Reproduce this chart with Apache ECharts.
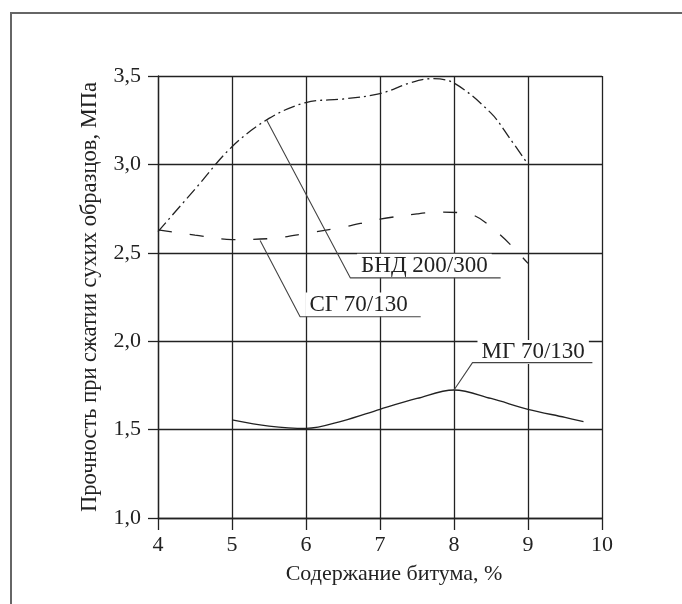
<!DOCTYPE html>
<html>
<head>
<meta charset="utf-8">
<script src="https://cdn.jsdelivr.net/npm/echarts@6/dist/echarts.min.js"></script>
<style>
html,body{margin:0;padding:0;background:#fff;}
#c{width:682px;height:604px;}
</style>
</head>
<body>
<div id="c"></div>
<script>
// ---- data ----
var xTicks = [4, 5, 6, 7, 8, 9, 10];
var yTicks = [1.0, 1.5, 2.0, 2.5, 3.0, 3.5];

var bndX = [4, 4.5, 5, 5.5, 6, 6.5, 7, 7.4, 7.7, 8, 8.5, 8.75, 9];
var bndY = [2.62, 2.86, 3.10, 3.26, 3.35, 3.37, 3.40, 3.46, 3.485, 3.46, 3.29, 3.15, 3.0];

var sgX = [4, 4.5, 5, 5.5, 6, 6.5, 7, 7.5, 7.8, 8.2, 8.6, 9];
var sgY = [2.63, 2.60, 2.575, 2.58, 2.61, 2.645, 2.69, 2.72, 2.73, 2.72, 2.61, 2.44];

var mgX = [5, 5.5, 6, 6.5, 7, 7.5, 8, 8.5, 9, 9.5, 9.75];
var mgY = [1.555, 1.52, 1.507, 1.55, 1.615, 1.676, 1.724, 1.676, 1.615, 1.569, 1.545];

var labelNames = ['БНД 200/300', 'СГ 70/130', 'МГ 70/130'];
var labelX = [7.60, 6.71, 9.07];
var labelY = [2.427, 2.207, 1.939];
var leaderBnd = [[5.47, 3.25], [6.60, 2.358], [8.63, 2.358]];
var leaderSg = [[5.38, 2.57], [5.92, 2.138], [7.55, 2.138]];
var leaderMg = [[8.0, 1.724], [8.25, 1.879], [9.87, 1.879]];

var xName = 'Содержание битума, %';
var yName = 'Прочность при сжатии сухих образцов, МПа';

function zip(xs, ys) { return xs.map(function (x, i) { return [x, ys[i]]; }); }

var FONT = 'Liberation Serif';
var INK = '#222222';

var chart = echarts.init(document.getElementById('c'), null, {renderer: 'canvas'});

function curve(data, dash) {
  return {
    type: 'line', data: data, smooth: 0.35, showSymbol: false, symbol: 'none', silent: true, z: 2,
    lineStyle: {color: INK, width: 1.3, type: dash}
  };
}
function leader(data) {
  return {
    type: 'line', data: data, smooth: false, showSymbol: false, symbol: 'none', silent: true, z: 5,
    lineStyle: {color: '#444', width: 1.1}
  };
}

chart.setOption({
  animation: false,
  backgroundColor: '#fff',
  graphic: [{
    type: 'rect', shape: {x: 11, y: 13, width: 700, height: 640},
    style: {fill: 'none', stroke: '#666', lineWidth: 2}, silent: true
  }],
  grid: {left: 158, right: 80, top: 76, bottom: 86},
  xAxis: {
    type: 'value', min: 4, max: 10, interval: 1,
    name: xName, nameLocation: 'middle', nameGap: 45,
    nameTextStyle: {fontFamily: FONT, fontSize: 22, color: INK, padding: [0, 0, 0, 28]},
    axisLine: {show: true, onZero: false, lineStyle: {color: INK, width: 1.3}},
    axisTick: {show: true, length: 12, lineStyle: {color: INK, width: 1.3}},
    axisLabel: {fontFamily: FONT, fontSize: 22, color: INK, margin: 16,
      formatter: function (v) { return xTicks.indexOf(v) >= 0 ? String(v) : ''; }},
    splitLine: {show: true, lineStyle: {color: INK, width: 1.3}}
  },
  yAxis: {
    type: 'value', min: 1.0, max: 3.5, interval: 0.5,
    name: yName, nameLocation: 'middle', nameGap: 56, nameRotate: 90,
    nameTextStyle: {fontFamily: FONT, fontSize: 22.5, color: INK},
    axisLine: {show: true, onZero: false, lineStyle: {color: INK, width: 1.3}},
    axisTick: {show: true, length: 10, lineStyle: {color: INK, width: 1.3}},
    axisLabel: {fontFamily: FONT, fontSize: 22, color: INK, margin: 17,
      formatter: function (v) { return v.toFixed(1).replace('.', ','); }},
    splitLine: {show: true, lineStyle: {color: INK, width: 1.3}}
  },
  series: [
    curve(zip(bndX, bndY), [12, 4, 2, 4]),
    curve(zip(sgX, sgY), [14, 18]),
    curve(zip(mgX, mgY), 'solid'),
    {
      type: 'scatter', z: 4, silent: true, symbolSize: 1,
      itemStyle: {color: 'rgba(0,0,0,0)'},
      data: labelNames.map(function (n, i) { return {name: n, value: [labelX[i], labelY[i]]}; }),
      label: {
        show: true, position: 'inside', formatter: function (p) { return p.name; },
        fontFamily: FONT, fontSize: 23, color: INK, opacity: 1,
        textBorderWidth: 0, textBorderColor: 'transparent',
        backgroundColor: '#fff', padding: [1, 4, 0, 4]
      },
      labelLayout: {hideOverlap: false}
    },
    leader(leaderBnd),
    leader(leaderSg),
    leader(leaderMg)
  ]
});
</script>
</body>
</html>
